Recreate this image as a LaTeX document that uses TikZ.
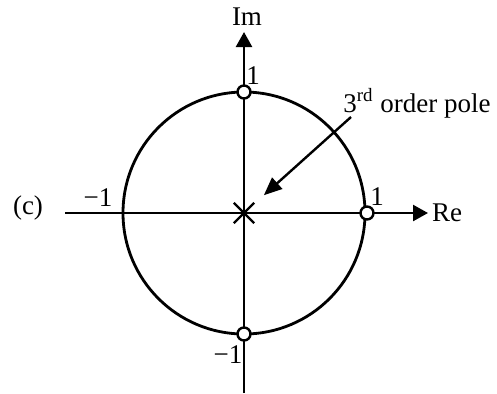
\documentclass[tikz,border=0pt]{standalone}
\usepackage{fontspec}
\setmainfont{Liberation Serif}
\usetikzlibrary{arrows.meta, shapes.misc, positioning}

\begin{document}
\begin{tikzpicture}[
		% styles of the pole-zero plot
		axis/.style = {line width=1.2pt, -{Triangle[length=7.5pt, width=8pt]}},
		zero/.style = {draw, circle, fill=white, line width=1.2pt, minimum size=6.5pt, inner sep=0pt},
		pole/.style = {draw, cross out, line width=1.2pt, minimum size=9pt, inner sep=0pt},
		lbl/.style = {inner sep=0pt, font=\fontsize{13.5}{16}\selectfont},
		pointer/.style = {line width=1.2pt, -{Triangle[length=9pt, width=7.5pt]}},
		x=0.5pt, y=-0.5pt
		]
		\useasboundingbox (0,0) rectangle (497,393);
		
		% --- AXES ---
		\coordinate (O) at (244,213);
		\coordinate (re_in) at (65,213);
		\coordinate (re_out) at (428,213);
		\coordinate (im_in) at (244,393);
		\coordinate (im_out) at (244,32);
		\draw [axis] (re_in) -- (re_out);
		\draw [axis] (im_in) -- (im_out);
		\node [lbl] (re_lbl) at (447,213) {Re};
		\node [lbl] (im_lbl) at (247,17) {Im};
		
		% unit circle
		\draw [line width=1.4pt] (O) circle (60.5pt);
		
		% --- ZEROS ---
		\node [zero] (z_top) at (244,92) {};
		\node [zero] (z_right) at (367,213) {};
		\node [zero] (z_bot) at (244,334) {};
		
		% --- POLE ---
		\node [pole] (p0) at (O) {};
		
		% --- LABELS ---
		\node [lbl] (one_top) at (253,76) {1};
		\node [lbl] (one_right) at (377,197) {1};
		\node [lbl] (mone_left) at (98,198) {−1};
		\node [lbl] (mone_bot) at (228,355) {−1};
		\node [lbl] (case_c) at (28,208) {(c)};
		
		% 3rd order pole note
		\node [lbl, anchor=base west] (p_note) at (343,112) {3\textsuperscript{rd} order pole};
		\coordinate (p_tail) at (351,117);
		\draw [pointer, shorten >=6.5pt] (p_tail) -- (p0);
		
	\end{tikzpicture}
\end{document}
